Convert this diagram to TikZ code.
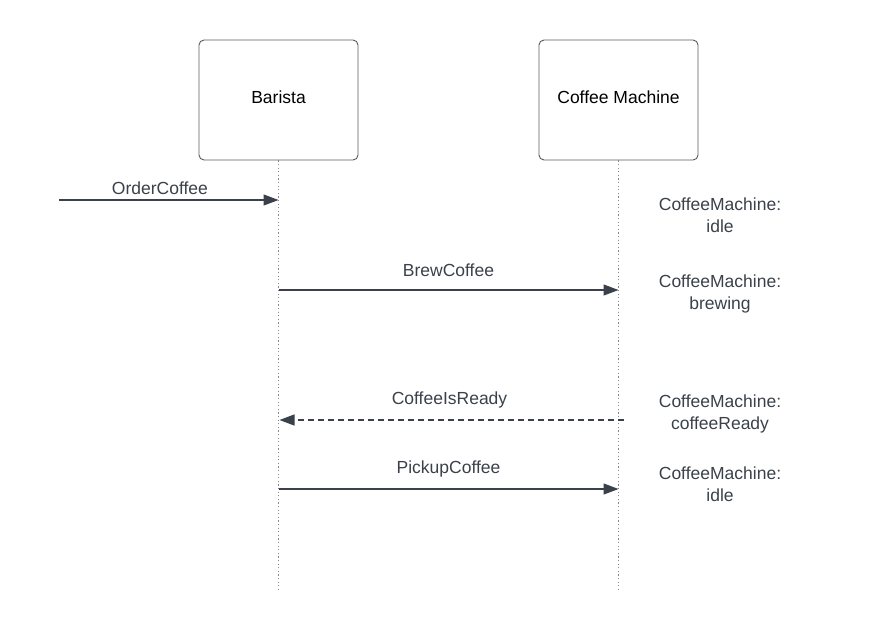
\documentclass[tikz,border=0pt]{standalone}
\usepackage{fontspec}
\setmainfont{Liberation Sans}
\usetikzlibrary{arrows.meta}
\definecolor{msgcol}{HTML}{3A414A}
\definecolor{boxcol}{HTML}{5A5A5A}
\definecolor{lifecol}{HTML}{8A8A8A}
\begin{document}
\begin{tikzpicture}[x=1pt, y=-1pt,
    actor/.style={draw=boxcol, line width=0.9pt, rounded corners=5pt, minimum width=159pt, minimum height=120pt, text depth=6pt, font=\fontsize{17.5}{21}\selectfont},
    lifeline/.style={draw=lifecol, line width=0.9pt, dash pattern=on 1.2pt off 2.4pt},
    msg/.style={draw=msgcol, line width=1.2pt, -{Triangle[length=15pt, width=11pt]}},
    reply/.style={msg, dash pattern=on 6pt off 4pt},
    msglabel/.style={text=msgcol, font=\fontsize{17.5}{21}\selectfont, anchor=south},
    state/.style={text=msgcol, align=center, font=\fontsize{17.5}{22}\selectfont}]
      \def\barx{278.5}
      \def\macx{618.5}

      \useasboundingbox (0, 0) rectangle (880, 630) ;

      \node[actor] (barista) at (\barx, 100) {Barista} ;
      \node[actor] (machine) at (\macx, 100) {Coffee Machine} ;

      \coordinate (bar-end) at (\barx, 590) ;
      \coordinate (mac-end) at (\macx, 590) ;
      \draw[lifeline] (barista.south) -- (bar-end) ;
      \draw[lifeline] (machine.south) -- (mac-end) ;

      % messages
      \coordinate (order-src) at (59, 200) ;
      \coordinate (bar-order) at (\barx, 200) ;
      \coordinate (bar-brew) at (\barx, 290) ;
      \coordinate (mac-brew) at (\macx, 290) ;
      \coordinate (mac-ready) at (\macx + 5, 420) ;
      \coordinate (bar-ready) at (\barx + 1, 420) ;
      \coordinate (bar-pickup) at (\barx, 489) ;
      \coordinate (mac-pickup) at (\macx, 489) ;

      \draw[msg] (order-src) -- (bar-order) node[msglabel, yshift=1pt, pos=0.46] {OrderCoffee} ;
      \draw[msg] (bar-brew) -- (mac-brew) node[msglabel, yshift=9pt, midway] {BrewCoffee} ;
      \draw[reply] (mac-ready) -- (bar-ready) node[msglabel, yshift=8pt, midway, xshift=-2pt] {CoffeeIsReady} ;
      \draw[msg] (bar-pickup) -- (mac-pickup) node[msglabel, yshift=8pt, midway] {PickupCoffee} ;

      % machine states
      \node[state] (state-idle) at (720, 215) {CoffeeMachine:\\idle} ;
      \node[state] (state-brewing) at (720, 294) {CoffeeMachine:\\brewing} ;
      \node[state] (state-ready) at (720, 414) {CoffeeMachine:\\coffeeReady} ;
      \node[state] (state-back) at (720, 484) {CoffeeMachine:\\idle} ;
\end{tikzpicture}
\end{document}
